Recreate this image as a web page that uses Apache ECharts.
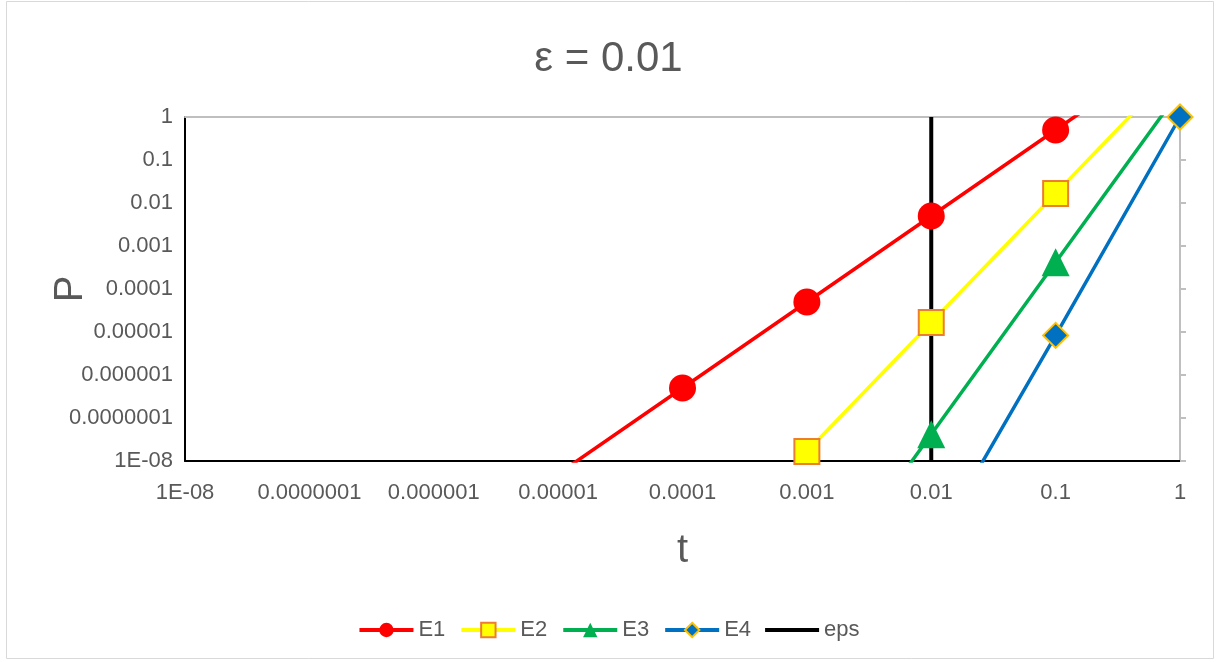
<!DOCTYPE html>
<html>
<head>
<meta charset="utf-8">
<script src="https://cdn.jsdelivr.net/npm/echarts@6/dist/echarts.min.js"></script>
<style>
  html, body { margin: 0; padding: 0; background: #ffffff; }
  #chart { width: 1217px; height: 662px; }
</style>
</head>
<body>
<div id="chart"></div>
<script>
// Time points (t) shared by all curves
const tValues = [1e-5, 1e-4, 1e-3, 1e-2, 1e-1, 1];

// Probability P for each event, aligned with tValues (null = not computed)
const e1Values = [5e-9, 5e-7, 5e-5, 5e-3, 0.5, 50];
const e2Values = [null, 1.67e-11, 1.67e-8, 1.67e-5, 0.0167, 16.7];
const e3Values = [null, null, 4.17e-12, 4.17e-8, 4.17e-4, 4.17];
const e4Values = [null, null, null, 8.33e-11, 8.33e-6, 1];

// Vertical marker at t = eps
const epsT = 0.01;
const epsSpan = [1e-8, 1];

// Decade tick labels, from 1e-8 up to 1
const tickLabels = ['1E-08', '0.0000001', '0.000001', '0.00001', '0.0001',
                    '0.001', '0.01', '0.1', '1'];

const seriesNames = ['E1', 'E2', 'E3', 'E4', 'eps'];

function pairs(values) {
  const out = [];
  values.forEach((v, i) => { if (v !== null) out.push([tValues[i], v]); });
  return out;
}

function decadeLabel(v) {
  const e = Math.round(Math.log10(v));
  return tickLabels[e + 8] !== undefined ? tickLabels[e + 8] : '';
}

const FONT = '"Liberation Sans", Arial, sans-serif';
const TEXT = '#595959';

const chart = echarts.init(document.getElementById('chart'), null, { renderer: 'canvas' });

const logAxisBase = { type: 'log', logBase: 10, min: 1e-8, max: 1, splitNumber: 8 };

// Legend entries: the eps entry is a plain line without a marker
const legendData = seriesNames.map(n => n === 'eps'
  ? { name: n, icon: 'path://M0,0 L54,0 L54,4 L0,4 Z' }
  : { name: n });

chart.setOption({
  backgroundColor: '#ffffff',
  animation: false,
  textStyle: { fontFamily: FONT },
  title: {
    text: 'ε = 0.01',
    left: 'center',
    top: 33,
    textStyle: { fontFamily: FONT, fontSize: 42, fontWeight: 'normal', color: TEXT }
  },
  grid: { left: 185, right: 37, top: 117, bottom: 201, containLabel: false },
  legend: {
    data: legendData,
    bottom: 16,
    left: 'center',
    itemWidth: 54,
    itemHeight: 18,
    itemGap: 14,
    lineStyle: { width: 4 },
    textStyle: { fontFamily: FONT, fontSize: 22, color: TEXT }
  },
  xAxis: [
    Object.assign({}, logAxisBase, {
      position: 'bottom',
      name: 't',
      nameLocation: 'middle',
      nameGap: 70,
      nameMoveOverlap: false,
      nameTextStyle: { fontFamily: FONT, fontSize: 40, color: TEXT },
      axisLine: { show: true, lineStyle: { color: '#000000', width: 2 } },
      axisTick: { show: false },
      axisLabel: { fontFamily: FONT, fontSize: 22, color: TEXT, margin: 21, formatter: decadeLabel },
      splitLine: { show: false },
      minorTick: { show: false }
    }),
    Object.assign({}, logAxisBase, {
      position: 'top',
      axisLine: { show: true, onZero: false, lineStyle: { color: '#BFBFBF', width: 2 } },
      axisTick: { show: false },
      axisLabel: { show: false },
      splitLine: { show: false }
    })
  ],
  yAxis: [
    Object.assign({}, logAxisBase, {
      position: 'left',
      name: 'P',
      nameLocation: 'middle',
      nameGap: 94,
      nameMoveOverlap: false,
      nameTextStyle: { fontFamily: FONT, fontSize: 40, color: TEXT },
      axisLine: { show: true, lineStyle: { color: '#000000', width: 2 } },
      axisTick: { show: false },
      axisLabel: { fontFamily: FONT, fontSize: 22, color: TEXT, margin: 12, formatter: decadeLabel },
      splitLine: { show: false }
    }),
    Object.assign({}, logAxisBase, {
      position: 'right',
      axisLine: { show: true, onZero: false, lineStyle: { color: '#BFBFBF', width: 2 } },
      axisTick: { show: true, inside: false, length: 6, lineStyle: { color: '#BFBFBF', width: 2 } },
      axisLabel: { show: false },
      splitLine: { show: false }
    })
  ],
  series: [
    {
      name: 'E1', type: 'line', data: pairs(e1Values),
      symbol: 'circle', symbolSize: 27,
      lineStyle: { color: '#FF0000', width: 3.5 },
      itemStyle: { color: '#FF0000', borderWidth: 0 }
    },
    {
      name: 'E2', type: 'line', data: pairs(e2Values),
      symbol: 'rect', symbolSize: 25,
      lineStyle: { color: '#FFFF00', width: 3.5 },
      itemStyle: { color: '#FFFF00', borderColor: '#ED7D31', borderWidth: 2 }
    },
    {
      name: 'E3', type: 'line', data: pairs(e3Values),
      symbol: 'triangle', symbolSize: 28,
      lineStyle: { color: '#00B050', width: 3.5 },
      itemStyle: { color: '#00B050', borderWidth: 0 }
    },
    {
      name: 'E4', type: 'line', data: pairs(e4Values),
      symbol: 'diamond', symbolSize: 25,
      lineStyle: { color: '#0070C0', width: 3.5 },
      itemStyle: { color: '#0070C0', borderColor: '#FFC000', borderWidth: 2 }
    },
    {
      name: 'eps', type: 'line',
      data: [[epsT, epsSpan[0]], [epsT, epsSpan[1]]],
      symbol: 'none',
      lineStyle: { color: '#000000', width: 4 },
      itemStyle: { color: '#000000' },
      z: 3
    }
  ],
  graphic: [
    {
      type: 'rect', silent: true, z: -1,
      shape: { x: 6.5, y: 1.5, width: 1207, height: 657 },
      style: { fill: null, stroke: '#D9D9D9', lineWidth: 1 }
    }
  ]
});
</script>
</body>
</html>
